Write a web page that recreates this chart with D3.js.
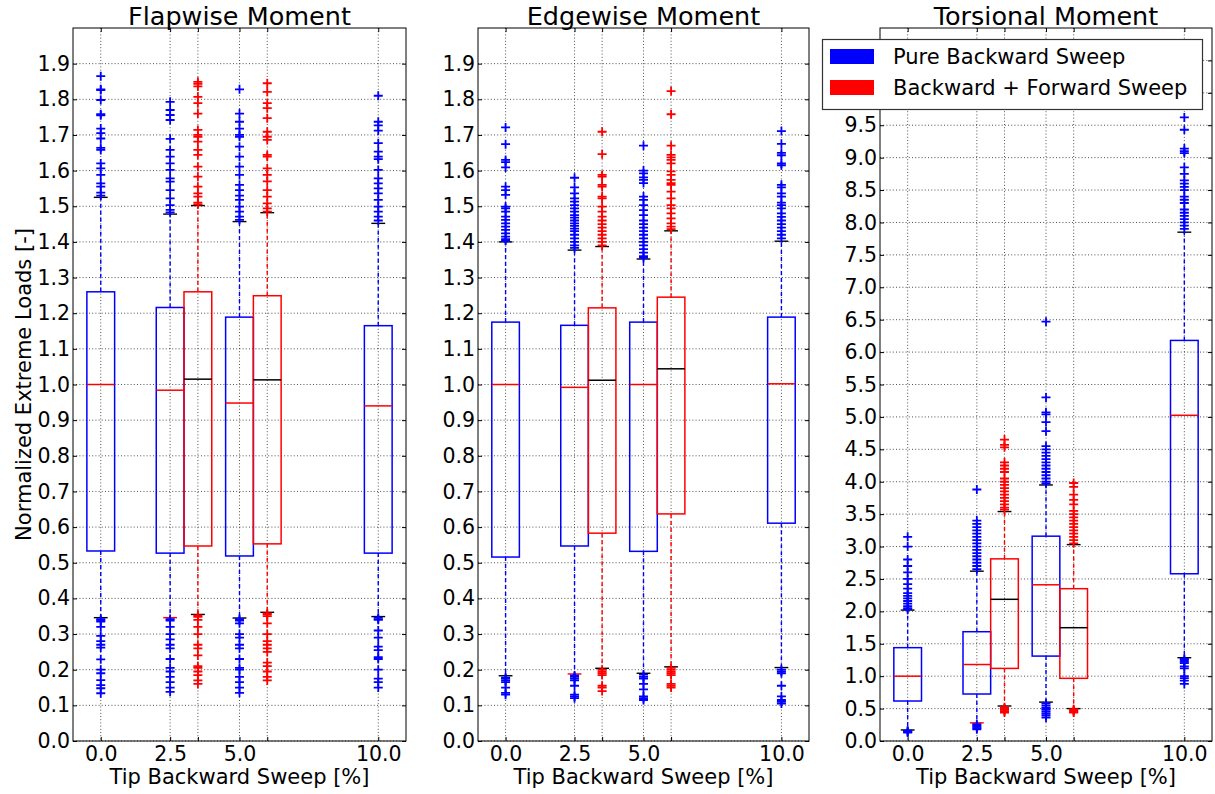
<!DOCTYPE html>
<html><head><meta charset="utf-8">
<script src="https://cdn.jsdelivr.net/npm/d3@7"></script>
<style>
body{margin:0;background:#fff}
text{font-family:"DejaVu Sans",sans-serif;fill:#000}
</style>
</head><body>
<svg id="chart" width="1215" height="794"></svg>
<script>
// ---------------- DATA ----------------
const panelTitles = ["Flapwise Moment", "Edgewise Moment", "Torsional Moment"];
const seriesNames = ["Pure Backward Sweep", "Backward + Forward Sweep"];
const bluePositions = [0, 2.5, 5, 10];
const redPositions = [3.5, 6];
const xTickValues = [0, 2.5, 3.5, 5, 6, 10];
const xTickLabels = ["0.0", "2.5", "", "5.0", "", "10.0"];
const yTicksFlap = d3.range(0, 20).map(i => i / 10);      // 0.0 .. 1.9
const yTicksEdge = d3.range(0, 20).map(i => i / 10);      // 0.0 .. 1.9
const yTicksTors = d3.range(0, 22).map(i => i / 2);       // 0.0 .. 10.5
const yMaxFlap = 2.0, yMaxEdge = 2.0, yMaxTors = 11.0;

// Flapwise – box stats: [q1, median, q3, whiskerLow, whiskerHigh]
const flapBlueStats = [
  [0.533, 1.000, 1.260, 0.346, 1.525],
  [0.527, 0.984, 1.216, 0.346, 1.478],
  [0.519, 0.948, 1.189, 0.345, 1.457],
  [0.527, 0.940, 1.165, 0.349, 1.452]
];
const flapRedStats = [
  [0.547, 1.015, 1.260, 0.355, 1.502],
  [0.553, 1.013, 1.249, 0.361, 1.482]
];
const flapBlueFliers = [
  [1.865,1.828,1.826,1.798,1.758,1.755,1.718,1.705,1.69,1.664,1.658,1.62,1.606,1.588,1.564,1.555,1.538,1.53,
   0.342,0.338,0.335,0.32,0.295,0.28,0.27,0.262,0.229,0.2,0.19,0.171,0.157,0.148,0.134],
  [1.793,1.77,1.756,1.742,1.689,1.658,1.639,1.62,1.602,1.578,1.569,1.545,1.522,1.503,1.49,1.483,
   0.342,0.338,0.32,0.30,0.285,0.27,0.26,0.23,0.205,0.195,0.18,0.165,0.15,0.138],
  [1.828,1.76,1.737,1.718,1.70,1.695,1.667,1.639,1.611,1.588,1.56,1.545,1.53,1.518,1.499,1.485,1.471,1.462,
   0.342,0.338,0.33,0.30,0.29,0.27,0.26,0.23,0.205,0.20,0.18,0.165,0.15,0.135],
  [1.81,1.737,1.727,1.712,1.677,1.653,1.639,1.632,1.602,1.578,1.564,1.55,1.536,1.518,1.499,1.485,1.471,1.46,
   0.346,0.342,0.34,0.31,0.29,0.265,0.255,0.235,0.23,0.20,0.175,0.165,0.15]
];
const flapRedFliers = [
  [1.849,1.843,1.836,1.807,1.789,1.76,1.714,1.70,1.695,1.681,1.658,1.644,1.611,1.583,1.555,1.536,1.527,1.51,1.505,
   0.352,0.348,0.34,0.32,0.30,0.27,0.26,0.24,0.21,0.205,0.195,0.185,0.17,0.16],
  [1.845,1.821,1.789,1.775,1.747,1.709,1.695,1.686,1.644,1.639,1.606,1.588,1.57,1.545,1.527,1.508,1.494,1.485,
   0.358,0.355,0.35,0.33,0.30,0.28,0.27,0.26,0.25,0.22,0.21,0.195,0.18,0.17]
];

// Edgewise
const edgeBlueStats = [
  [0.516, 1.000, 1.175, 0.183, 1.400],
  [0.547, 0.992, 1.166, 0.188, 1.377],
  [0.532, 1.000, 1.175, 0.190, 1.352],
  [0.611, 1.002, 1.189, 0.206, 1.402]
];
const edgeRedStats = [
  [0.583, 1.012, 1.215, 0.204, 1.387],
  [0.637, 1.044, 1.245, 0.208, 1.431]
];
const edgeBlueFliers = [
  [1.721,1.674,1.63,1.624,1.609,1.555,1.545,1.532,1.499,1.494,1.485,1.471,1.462,1.452,1.443,1.434,1.424,1.415,1.408,1.403,
   0.178,0.175,0.17,0.165,0.15,0.135,0.13],
  [1.58,1.553,1.536,1.522,1.513,1.503,1.494,1.485,1.475,1.468,1.46,1.452,1.445,1.437,1.43,1.42,1.41,1.40,1.39,1.383,
   0.184,0.18,0.175,0.17,0.155,0.13,0.125,0.12],
  [1.67,1.6,1.592,1.581,1.574,1.565,1.527,1.518,1.503,1.489,1.475,1.46,1.45,1.44,1.43,1.42,1.41,1.40,1.39,1.38,1.37,1.36,1.355,
   0.186,0.18,0.175,0.16,0.145,0.125,0.12,0.115],
  [1.711,1.675,1.65,1.643,1.62,1.615,1.56,1.553,1.536,1.527,1.51,1.503,1.494,1.48,1.47,1.46,1.45,1.44,1.43,1.42,1.41,
   0.2,0.195,0.19,0.155,0.125,0.115,0.11,0.105]
];
const edgeRedFliers = [
  [1.709,1.646,1.588,1.583,1.56,1.555,1.527,1.522,1.499,1.485,1.471,1.46,1.45,1.44,1.43,1.42,1.41,1.40,1.39,
   0.2,0.195,0.19,0.185,0.155,0.15,0.14],
  [1.823,1.758,1.67,1.644,1.637,1.63,1.62,1.598,1.588,1.574,1.565,1.56,1.541,1.522,1.503,1.494,1.48,1.466,1.452,1.443,1.436,
   0.205,0.2,0.195,0.19,0.185,0.16,0.155,0.15]
];

// Torsional
const torsBlueStats = [
  [0.617, 1.000, 1.440, 0.170, 2.020],
  [0.725, 1.180, 1.686, 0.280, 2.620],
  [1.310, 2.410, 3.160, 0.600, 3.950],
  [2.580, 5.025, 6.180, 1.285, 7.850]
];
const torsRedStats = [
  [1.120, 2.186, 2.810, 0.540, 3.540],
  [0.967, 1.748, 2.350, 0.500, 3.030]
];
const torsBlueFliers = [
  [3.15,3.0,2.8,2.7,2.6,2.5,2.42,2.35,2.28,2.24,2.2,2.16,2.12,2.08,2.05,2.03,
   0.16,0.15,0.14,0.13],
  [3.88,3.4,3.35,3.3,3.25,3.2,3.15,3.1,3.05,3.0,2.95,2.9,2.85,2.8,2.75,2.7,2.65,
   0.26,0.24,0.22,0.2,0.18],
  [6.47,5.3,5.07,5.04,4.92,4.78,4.55,4.5,4.45,4.4,4.35,4.3,4.25,4.2,4.15,4.1,4.05,4.0,3.97,
   0.58,0.55,0.52,0.5,0.48,0.45,0.42,0.39,0.36],
  [9.62,9.43,9.14,9.1,9.07,8.85,8.75,8.65,8.6,8.55,8.5,8.4,8.35,8.3,8.2,8.15,8.1,8.05,8.0,7.95,7.9,
   1.27,1.25,1.22,1.2,1.15,1.12,1.0,0.97,0.93,0.88]
];
const torsRedFliers = [
  [4.65,4.57,4.53,4.3,4.25,4.2,4.15,4.05,4.0,3.95,3.9,3.85,3.8,3.75,3.7,3.65,3.6,3.57,
   0.52,0.5,0.48,0.46,0.44],
  [3.98,3.92,3.8,3.72,3.65,3.55,3.5,3.45,3.4,3.35,3.3,3.25,3.2,3.15,3.1,3.05,
   0.49,0.48,0.47,0.45,0.44]
];

// ---------------- LAYOUT ----------------
const svg = d3.select("#chart");
const TOP = 28, BOTTOM = 741;
const panelX = [[73, 406], [478, 809], [880, 1212]];
const BLUE = "#0000ff", RED = "#ff0000";
const TICK_FONT = "20.5px", LABEL_FONT = "21px", TITLE_FONT = "25.5px";

const panels = [
  {title: panelTitles[0], yMax: yMaxFlap, yTicks: yTicksFlap, blue: flapBlueStats, red: flapRedStats, bf: flapBlueFliers, rf: flapRedFliers, fmt: d3.format(".1f")},
  {title: panelTitles[1], yMax: yMaxEdge, yTicks: yTicksEdge, blue: edgeBlueStats, red: edgeRedStats, bf: edgeBlueFliers, rf: edgeRedFliers, fmt: d3.format(".1f")},
  {title: panelTitles[2], yMax: yMaxTors, yTicks: yTicksTors, blue: torsBlueStats, red: torsRedStats, bf: torsBlueFliers, rf: torsRedFliers, fmt: d3.format(".1f")}
];

panels.forEach((p, pi) => {
  const [L, R] = panelX[pi];
  const x = d3.scaleLinear().domain([-1, 11]).range([L, R]);
  const y = d3.scaleLinear().domain([0, p.yMax]).range([BOTTOM, TOP]);
  const g = svg.append("g");

  // grid
  const grid = g.append("g").attr("stroke", "#000").attr("stroke-width", 0.8).attr("stroke-dasharray", "1,2.2").attr("opacity", 0.85);
  xTickValues.forEach(v => grid.append("line").attr("x1", x(v)).attr("x2", x(v)).attr("y1", TOP).attr("y2", BOTTOM));
  p.yTicks.forEach(v => grid.append("line").attr("x1", L).attr("x2", R).attr("y1", y(v)).attr("y2", y(v)));

  // axes (ticks inward)
  const la = g.append("g").attr("transform", `translate(${L},0)`)
    .call(d3.axisLeft(y).tickValues(p.yTicks).tickSize(-4).tickPadding(3).tickFormat(p.fmt));
  const ra = g.append("g").attr("transform", `translate(${R},0)`)
    .call(d3.axisRight(y).tickValues(p.yTicks).tickSize(-4).tickFormat(""));
  const ba = g.append("g").attr("transform", `translate(0,${BOTTOM})`)
    .call(d3.axisBottom(x).tickValues(xTickValues).tickSize(-4).tickPadding(5).tickFormat((d, i) => xTickLabels[i]));
  const ta = g.append("g").attr("transform", `translate(0,${TOP})`)
    .call(d3.axisTop(x).tickValues(xTickValues).tickSize(-4).tickFormat(""));
  [la, ra, ba, ta].forEach(a => {
    a.select(".domain").remove();
    a.selectAll("line").attr("stroke", "#000").attr("stroke-width", 1);
    a.selectAll("text").style("font-size", TICK_FONT).attr("fill", "#000");
  });

  // boxes
  function drawSeries(stats, positions, fliers, color, medColor, isBlue) {
    const half = 0.5, capHalf = 0.25;
    stats.forEach((s, i) => {
      const [q1, med, q3, lo, hi] = s;
      const pos = positions[i];
      const sg = g.append("g");
      // whiskers
      sg.append("line").attr("x1", x(pos)).attr("x2", x(pos)).attr("y1", y(q3)).attr("y2", y(hi))
        .attr("stroke", color).attr("stroke-width", 1.4).attr("stroke-dasharray", "4,3");
      sg.append("line").attr("x1", x(pos)).attr("x2", x(pos)).attr("y1", y(q1)).attr("y2", y(lo))
        .attr("stroke", color).attr("stroke-width", 1.4).attr("stroke-dasharray", "4,3");
      // caps
      const lowCapColor = (isBlue && pos === 2.5) ? RED : "#000";
      sg.append("line").attr("x1", x(pos - capHalf)).attr("x2", x(pos + capHalf)).attr("y1", y(hi)).attr("y2", y(hi))
        .attr("stroke", "#000").attr("stroke-width", 1.4);
      sg.append("line").attr("x1", x(pos - capHalf)).attr("x2", x(pos + capHalf)).attr("y1", y(lo)).attr("y2", y(lo))
        .attr("stroke", lowCapColor).attr("stroke-width", 1.4);
      // box
      sg.append("rect").attr("x", x(pos - half)).attr("y", y(q3)).attr("width", x(pos + half) - x(pos - half))
        .attr("height", y(q1) - y(q3)).attr("fill", "none").attr("stroke", color).attr("stroke-width", 1.5);
      // median
      sg.append("line").attr("x1", x(pos - half)).attr("x2", x(pos + half)).attr("y1", y(med)).attr("y2", y(med))
        .attr("stroke", medColor).attr("stroke-width", 1.5);
      // fliers
      sg.append("g").selectAll("path").data(fliers[i]).join("path")
        .attr("transform", v => `translate(${x(pos)},${y(v)})`)
        .attr("d", "M-4.5,0H4.5M0,-4.5V4.5")
        .attr("stroke", color).attr("stroke-width", 1.8).attr("fill", "none");
    });
  }
  drawSeries(p.blue, bluePositions, p.bf, BLUE, RED, true);
  drawSeries(p.red, redPositions, p.rf, RED, "#000", false);

  // frame
  g.append("rect").attr("x", L).attr("y", TOP).attr("width", R - L).attr("height", BOTTOM - TOP)
    .attr("fill", "none").attr("stroke", "#000").attr("stroke-width", 1);

  // title
  g.append("text").attr("x", (L + R) / 2).attr("y", 25).attr("text-anchor", "middle")
    .style("font-size", TITLE_FONT).text(p.title);
  // x label
  g.append("text").attr("x", (L + R) / 2).attr("y", 784).attr("text-anchor", "middle")
    .style("font-size", LABEL_FONT).text("Tip Backward Sweep [%]");
});

// y label
svg.append("text").attr("transform", `translate(31,${(TOP + BOTTOM) / 2}) rotate(-90)`)
  .attr("text-anchor", "middle").style("font-size", LABEL_FONT).text("Normalized Extreme Loads [-]");

// legend
const lg = svg.append("g");
lg.append("rect").attr("x", 822.5).attr("y", 39.5).attr("width", 380).attr("height", 70)
  .attr("fill", "#fff").attr("stroke", "#333").attr("stroke-width", 1.2);
[BLUE, RED].forEach((c, i) => {
  lg.append("rect").attr("x", 830).attr("y", 49 + i * 31).attr("width", 44).attr("height", 15).attr("fill", c);
  lg.append("text").attr("x", 893).attr("y", 64 + i * 31).style("font-size", LABEL_FONT).text(seriesNames[i]);
});
</script>
</body></html>
